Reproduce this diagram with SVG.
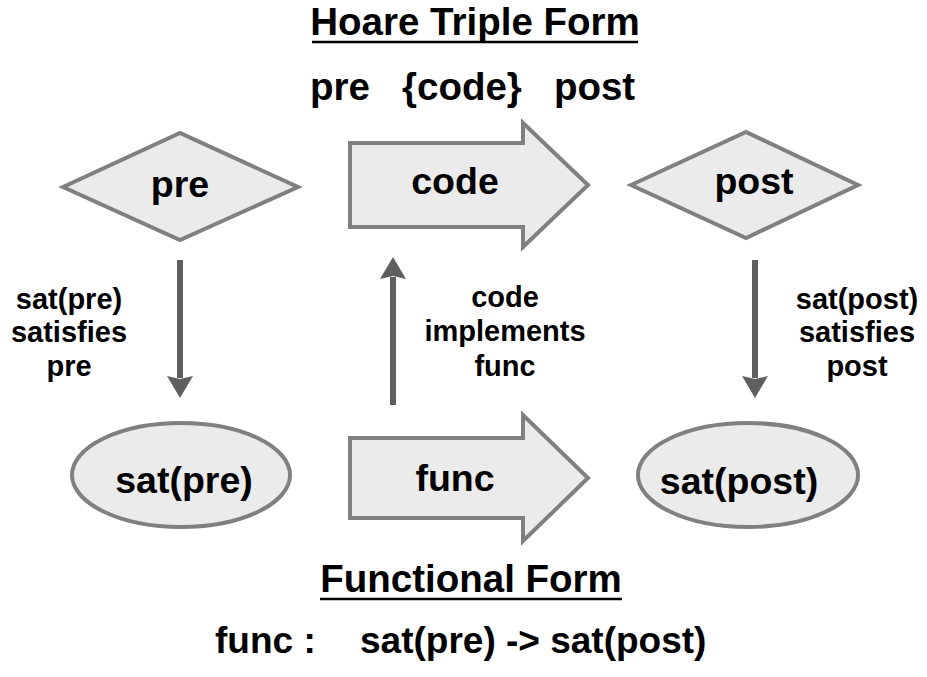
<svg xmlns="http://www.w3.org/2000/svg" width="927" height="677" viewBox="0 0 927 677">
  <style>
    text { font-family: "Liberation Sans", Arial, Helvetica, sans-serif; font-weight: bold; fill: #000; }
    .title { font-size: 38.5px; }
    .formula { font-size: 37px; }
    .node-label { font-size: 37.5px; text-anchor: middle; }
    .edge-label { font-size: 29px; text-anchor: middle; }
    .shape { fill: #ebebeb; stroke: #808080; stroke-width: 4; stroke-linejoin: miter; }
    .edge { stroke: #5f5f5f; stroke-width: 6; fill: none; }
    .rule { stroke: #000; stroke-width: 2.5; }
  </style>
  <defs>
    <marker id="arrowhead" markerUnits="userSpaceOnUse" viewBox="0 0 22 26" markerWidth="22" markerHeight="26" refX="2" refY="13" orient="auto">
      <path d="M0,0 L22,13 L0,26 L3,13 Z" fill="#5f5f5f"/>
    </marker>
  </defs>

  <!-- headings -->
  <g id="heading-hoare">
    <text class="title" x="475" y="35" text-anchor="middle">Hoare Triple Form</text>
    <line class="rule" x1="312" y1="42" x2="638" y2="42"/>
  </g>
  <text class="title" x="310" y="100" xml:space="preserve">pre   {code}   post</text>

  <g id="heading-functional">
    <text class="title" x="471" y="592" text-anchor="middle">Functional Form</text>
    <line class="rule" x1="320" y1="599" x2="622" y2="599"/>
  </g>
  <text class="formula" x="215" y="653">func :</text>
  <text class="formula" x="360" y="653">sat(pre) -&gt; sat(post)</text>

  <!-- top row -->
  <g id="node-pre">
    <polygon class="shape" points="63,187 180,133 298,187 180,240"/>
    <text class="node-label" x="180" y="197">pre</text>
  </g>
  <g id="node-code">
    <polygon class="shape" points="350,143 523,143 523,123 588,185 523,247 523,227 350,227"/>
    <text class="node-label" x="455" y="194">code</text>
  </g>
  <g id="node-post">
    <polygon class="shape" points="631,185 746,132 858,185 746,238"/>
    <text class="node-label" x="754" y="194">post</text>
  </g>

  <!-- bottom row -->
  <g id="node-sat-pre">
    <ellipse class="shape" cx="181" cy="475" rx="109" ry="52"/>
    <text class="node-label" x="184" y="493">sat(pre)</text>
  </g>
  <g id="node-func">
    <polygon class="shape" points="350,438 523,438 523,415 588,478 523,541 523,518 350,518"/>
    <text class="node-label" x="455" y="491">func</text>
  </g>
  <g id="node-sat-post">
    <ellipse class="shape" cx="748" cy="475" rx="110" ry="52"/>
    <text class="node-label" x="739" y="494">sat(post)</text>
  </g>

  <!-- connectors -->
  <g id="connectors">
    <line class="edge" x1="180" y1="260" x2="180" y2="378" marker-end="url(#arrowhead)"/>
    <line class="edge" x1="393" y1="405" x2="393" y2="277" marker-end="url(#arrowhead)"/>
    <line class="edge" x1="755" y1="260" x2="755" y2="378" marker-end="url(#arrowhead)"/>
  </g>

  <!-- connector labels -->
  <g id="label-sat-pre">
    <text class="edge-label" x="69" y="309">sat(pre)</text>
    <text class="edge-label" x="69" y="342">satisfies</text>
    <text class="edge-label" x="69" y="376">pre</text>
  </g>
  <g id="label-implements">
    <text class="edge-label" x="505" y="307">code</text>
    <text class="edge-label" x="505" y="341">implements</text>
    <text class="edge-label" x="505" y="376">func</text>
  </g>
  <g id="label-sat-post">
    <text class="edge-label" x="857" y="309">sat(post)</text>
    <text class="edge-label" x="857" y="342">satisfies</text>
    <text class="edge-label" x="857" y="376">post</text>
  </g>
</svg>
